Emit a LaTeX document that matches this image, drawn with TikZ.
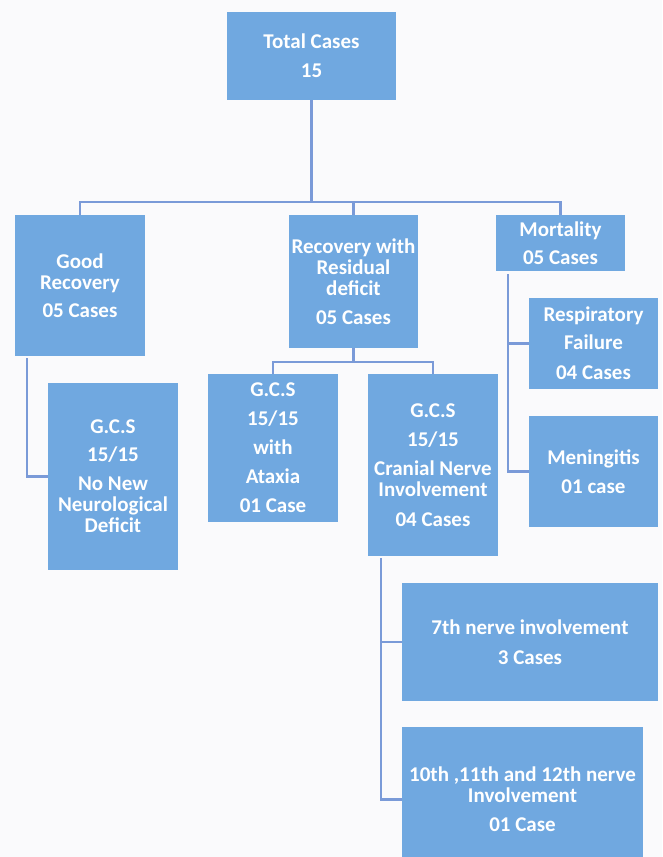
\documentclass[tikz,border=0pt]{standalone}
\usepackage{fontspec}
\setmainfont{Carlito}
\definecolor{boxblue}{RGB}{112,168,224}
\definecolor{lineblue}{RGB}{122,154,216}
\definecolor{paper}{RGB}{250,250,252}
\tikzset{
  box/.style={fill=boxblue, text=white, inner sep=0pt, align=center,
    font=\fontsize{21}{21}\selectfont\bfseries},
  link/.style={draw=lineblue, line width=2.2pt}
}
\begin{document}
\begin{tikzpicture}[x=1pt,y=-1pt]
      \fill[paper] (0,0) rectangle (662,857);
      \useasboundingbox (0,0) rectangle (662,857);
      \clip (0,0) rectangle (662,857);
      \node[box, minimum width=169, minimum height=88] (total) at (311.5,56) {Total Cases\\[8pt]15};
      \node[box, minimum width=130, minimum height=141] (good) at (80,285.5) {Good\\Recovery\\[7pt]05 Cases};
      \node[box, minimum width=129, minimum height=133] (rwr) at (353.5,281.5) {Recovery with\\Residual\\deficit\\[8pt]05 Cases};
      \node[box, minimum width=129, minimum height=56] (mort) at (560.5,243) {Mortality\\[7pt]05 Cases};
      \node[box, minimum width=130, minimum height=187] (nn) at (113,476.5) {G.C.S\\[7pt]15/15\\[8pt]No New\\Neurological\\Deficit};
      \node[box, minimum width=130, minimum height=148] (atax) at (273,448) {G.C.S\\[8pt]15/15\\[8pt]with\\[8pt]Ataxia\\[8pt]01 Case};
      \node[box, minimum width=130, minimum height=182] (cran) at (433,465) {G.C.S\\[8pt]15/15\\[8pt]Cranial Nerve\\Involvement\\[9pt]04 Cases};
      \node[box, minimum width=129, minimum height=91] (resp) at (593.5,343.5) {Respiratory\\[7pt]Failure\\[9pt]04 Cases};
      \node[box, minimum width=129, minimum height=111] (men) at (593.5,471.5) {Meningitis\\[8pt]01 case};
      \node[box, minimum width=256, minimum height=118] (seventh) at (530,642) {7th nerve involvement\\[9pt]3 Cases};
      \node[box, minimum width=241, minimum height=145] (tenth) at (522.5,799.5) {10th ,11th and 12th nerve\\Involvement\\[8pt]01 Case};
      % tree lines
      \coordinate (bar) at (311.5,202);
      \draw[link] (total.south) -- (bar);
      \draw[link] (good.north) -- (good.north |- bar) -- (mort.north |- bar) -- (mort.north);
      \draw[link] (rwr.north) -- (rwr.north |- bar);
      \coordinate (gl) at (27,358);
      \draw[link] (gl) |- (nn.west);
      \draw[link] (rwr.south) -- ++(0,14) coordinate (rb);
      \draw[link] (atax.north) |- (rb) -| (cran.north);
      \coordinate (ml) at (508,274);
      \draw[link] (ml) |- (men.west);
      \draw[link] (ml |- resp.west) -- (resp.west);
      \coordinate (cl) at (381,558);
      \draw[link] (cl) |- (tenth.west);
      \draw[link] (cl |- seventh.west) -- (seventh.west);
    \end{tikzpicture}
\end{document}
